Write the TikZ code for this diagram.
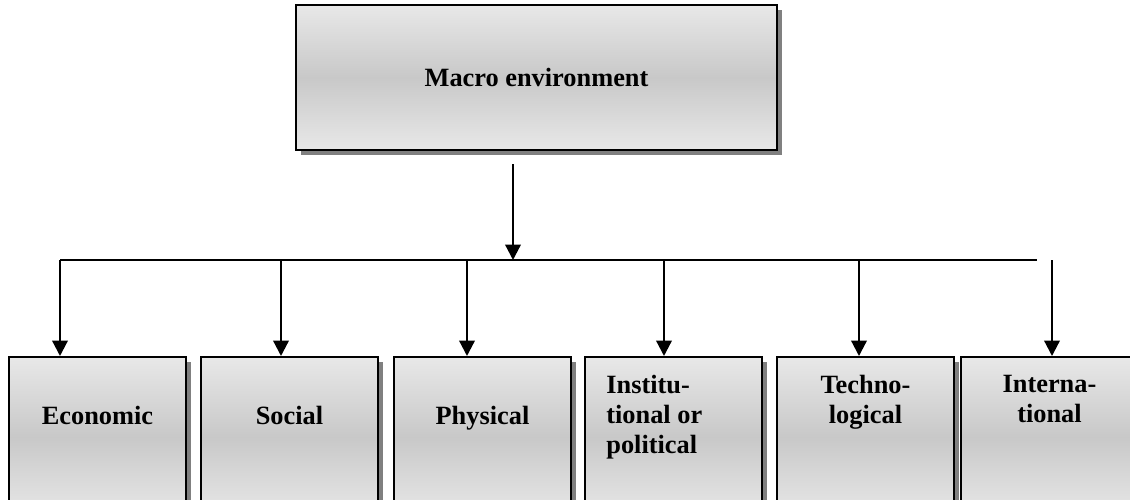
\documentclass[tikz,border=0pt]{standalone}
\usepackage{fontspec}
\setmainfont{Liberation Serif}
\usetikzlibrary{arrows.meta,shadows}
\begin{document}
\begin{tikzpicture}[x=0.2mm, y=-0.2mm,
  boite/.style={draw, line width=1.1pt, top color=gray!18, bottom color=gray!18, middle color=gray!43,
    drop shadow={fill=gray, opacity=1, shadow xshift=1mm, shadow yshift=-1mm}},
  petit/.style={boite, minimum width=35.4mm, minimum height=32mm, anchor=north west},
  texte/.style={font=\bfseries\fontsize{15}{17}\selectfont, inner sep=0pt, align=center},
  fleche/.style={-{Triangle[width=3.1mm,length=3.1mm]}, line width=1.3pt}]
\useasboundingbox (0,0) rectangle (1130,500);
\clip (0,0) rectangle (1130,500);
\node[boite, line width=1.3pt, minimum width=96.2mm, minimum height=29mm, texte] (macro) at (536.5,77.5) {Macro environment};
\foreach \i/\x in {1/8, 2/200, 3/393, 4/584, 5/776, 6/960}
  \node[petit] (f\i) at (\x,356) {};
\foreach \i/\t in {1/Economic, 2/Social, 3/Physical}
  \node[texte, anchor=base] (t\i) at ([yshift=-13.6mm]f\i.north) {\t};
\node[texte, anchor=north west, align=left] (t4) at ([xshift=4.4mm, yshift=-3.8mm]f4.north west) {Institu-\\tional or\\political};
\node[texte, anchor=north] (t5) at ([yshift=-3.8mm]f5.north) {Techno-\\logical};
\node[texte, anchor=north] (t6) at ([yshift=-3.8mm]f6.north) {Interna-\\tional};
\coordinate (bus) at (513,260);
\coordinate (gauche) at (60,260);
\coordinate (droite) at (1037,260);
\draw[fleche] ([yshift=-2.6mm]macro.south -| bus) -- (bus);
\draw[line width=0.75pt] (gauche) -- (droite);
\foreach \i/\x in {1/60, 2/281, 3/467, 4/664, 5/859, 6/1052}
  {\coordinate (a\i) at (\x,260);
  \draw[fleche] (a\i) -- (a\i |- f\i.north);};
\end{tikzpicture}
\end{document}
